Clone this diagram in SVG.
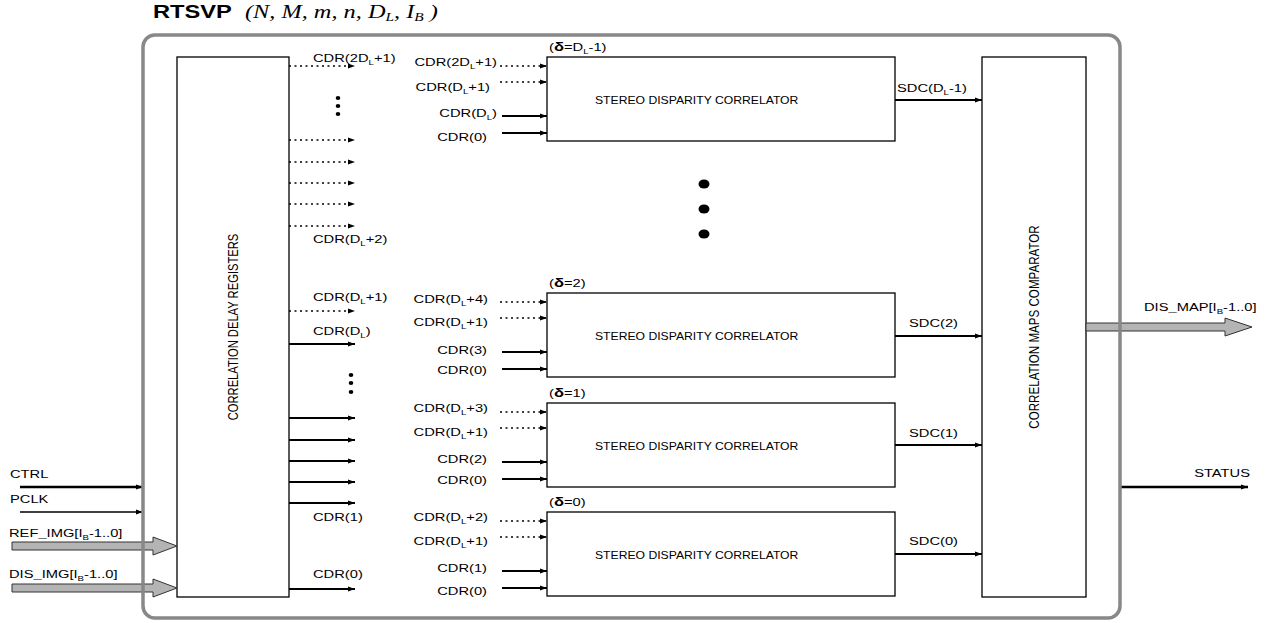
<svg xmlns="http://www.w3.org/2000/svg" width="1275" height="623" viewBox="0 0 1275 623">
<style>
.t{font-family:"Liberation Sans",Arial,Helvetica,sans-serif;font-size:11.5px;fill:#000;}
.l{transform-box:fill-box;transform-origin:left center;transform:scaleX(1.28);}
.r{text-anchor:end;transform-box:fill-box;transform-origin:right center;transform:scaleX(1.28);}
.v{text-anchor:middle;font-size:11.2px;}
.sd{font-size:10.6px;transform-box:fill-box;transform-origin:left center;transform:scaleX(1.15);}
.box{fill:#fff;stroke:#000;stroke-width:1.3;}
.sol{stroke:#000;stroke-width:2;fill:none;}
.thin{stroke-width:1.3;}
.thick{stroke-width:2.6;}
.dot{stroke:#000;stroke-width:1.5;stroke-dasharray:2 3.5;fill:none;}
.fat{fill:#b4b4b4;stroke:#333;stroke-width:1;}
.frame{fill:none;stroke:#888;stroke-width:3.5;}
</style>
<defs>
<marker id="ah" markerUnits="userSpaceOnUse" markerWidth="7" markerHeight="6" refX="7" refY="3" orient="auto">
<path d="M0,0.5 L7,3 L0,5.5 z" fill="#000"/>
</marker>
</defs>

<g id="title">
<text class="t l" x="153" y="18" style="font-size:18.5px;font-weight:bold">RTSVP</text>
<text class="t l" x="245" y="18" style="font-family:'Liberation Serif','Times New Roman',serif;font-style:italic;font-size:19px">(N, M, m, n, D<tspan font-size="12" dy="3">L</tspan><tspan dy="-3">, I</tspan><tspan font-size="12" dy="3">B</tspan><tspan dy="-3"> )</tspan></text>
</g>

<g id="delay-registers">
<rect class="box" x="177" y="57" width="112" height="540"/>
<text class="t v" transform="translate(233,327) scale(1.28,1) rotate(-90)" x="0" y="4">CORRELATION DELAY REGISTERS</text>
</g>

<g id="comparator">
<rect class="box" x="982" y="57" width="104" height="540"/>
<text class="t v" transform="translate(1034,327) scale(1.28,1) rotate(-90)" x="0" y="4" style="font-size:11.6px">CORRELATION MAPS COMPARATOR</text>
</g>

<g id="sdc-dl1">
<rect class="box" x="547" y="57" width="348" height="84"/>
<text class="t sd" x="595" y="104">STEREO DISPARITY CORRELATOR</text>
<text class="t l" x="549" y="51">(<tspan font-weight="bold" font-size="13">δ</tspan>=D<tspan font-size="7.5" dy="3">L</tspan><tspan dy="-3">-1)</tspan></text>
</g>
<g id="sdc-2">
<rect class="box" x="547" y="293" width="348" height="84"/>
<text class="t sd" x="595" y="340">STEREO DISPARITY CORRELATOR</text>
<text class="t l" x="549" y="287">(<tspan font-weight="bold" font-size="13">δ</tspan>=2)</text>
</g>
<g id="sdc-1">
<rect class="box" x="547" y="403" width="348" height="84"/>
<text class="t sd" x="595" y="450">STEREO DISPARITY CORRELATOR</text>
<text class="t l" x="549" y="397">(<tspan font-weight="bold" font-size="13">δ</tspan>=1)</text>
</g>
<g id="sdc-0">
<rect class="box" x="547" y="512" width="348" height="84"/>
<text class="t sd" x="595" y="559">STEREO DISPARITY CORRELATOR</text>
<text class="t l" x="549" y="506">(<tspan font-weight="bold" font-size="13">δ</tspan>=0)</text>
</g>

<g id="dots">
<ellipse cx="338" cy="98" rx="2.3" ry="2"/>
<ellipse cx="338" cy="106" rx="2.3" ry="2"/>
<ellipse cx="338" cy="114" rx="2.3" ry="2"/>
<ellipse cx="351" cy="375" rx="2.3" ry="2"/>
<ellipse cx="351" cy="383" rx="2.3" ry="2"/>
<ellipse cx="351" cy="392" rx="2.3" ry="2"/>
<ellipse cx="704" cy="184" rx="5.5" ry="4.6"/>
<ellipse cx="704" cy="209" rx="5.5" ry="4.6"/>
<ellipse cx="704" cy="234" rx="5.5" ry="4.6"/>
</g>

<g id="connectors">
<line class="dot" x1="289" y1="66" x2="355" y2="66" marker-end="url(#ah)"/>
<line class="dot" x1="289" y1="140" x2="355" y2="140" marker-end="url(#ah)"/>
<line class="dot" x1="289" y1="162" x2="355" y2="162" marker-end="url(#ah)"/>
<line class="dot" x1="289" y1="183" x2="355" y2="183" marker-end="url(#ah)"/>
<line class="dot" x1="289" y1="204" x2="355" y2="204" marker-end="url(#ah)"/>
<line class="dot" x1="289" y1="226" x2="355" y2="226" marker-end="url(#ah)"/>
<line class="dot" x1="289" y1="311" x2="355" y2="311" marker-end="url(#ah)"/>
<line class="sol" x1="289" y1="344" x2="355" y2="344" marker-end="url(#ah)"/>
<line class="sol" x1="289" y1="418" x2="355" y2="418" marker-end="url(#ah)"/>
<line class="sol" x1="289" y1="440" x2="355" y2="440" marker-end="url(#ah)"/>
<line class="sol" x1="289" y1="461" x2="355" y2="461" marker-end="url(#ah)"/>
<line class="sol" x1="289" y1="482" x2="355" y2="482" marker-end="url(#ah)"/>
<line class="sol" x1="289" y1="503" x2="355" y2="503" marker-end="url(#ah)"/>
<line class="sol" x1="289" y1="589" x2="355" y2="589" marker-end="url(#ah)"/>

<line class="dot" x1="500" y1="66" x2="547" y2="66" marker-end="url(#ah)"/>
<line class="dot" x1="500" y1="82" x2="547" y2="82" marker-end="url(#ah)"/>
<line class="sol" x1="502" y1="116" x2="547" y2="116" marker-end="url(#ah)"/>
<line class="sol" x1="502" y1="133" x2="547" y2="133" marker-end="url(#ah)"/>

<line class="dot" x1="500" y1="302" x2="547" y2="302" marker-end="url(#ah)"/>
<line class="dot" x1="500" y1="318" x2="547" y2="318" marker-end="url(#ah)"/>
<line class="sol" x1="502" y1="352" x2="547" y2="352" marker-end="url(#ah)"/>
<line class="sol" x1="502" y1="369" x2="547" y2="369" marker-end="url(#ah)"/>

<line class="dot" x1="500" y1="412" x2="547" y2="412" marker-end="url(#ah)"/>
<line class="dot" x1="500" y1="428" x2="547" y2="428" marker-end="url(#ah)"/>
<line class="sol" x1="502" y1="462" x2="547" y2="462" marker-end="url(#ah)"/>
<line class="sol" x1="502" y1="479" x2="547" y2="479" marker-end="url(#ah)"/>

<line class="dot" x1="500" y1="521" x2="547" y2="521" marker-end="url(#ah)"/>
<line class="dot" x1="500" y1="537" x2="547" y2="537" marker-end="url(#ah)"/>
<line class="sol" x1="502" y1="571" x2="547" y2="571" marker-end="url(#ah)"/>
<line class="sol" x1="502" y1="588" x2="547" y2="588" marker-end="url(#ah)"/>

<line class="sol" x1="895" y1="100" x2="982" y2="100" marker-end="url(#ah)"/>
<line class="sol" x1="895" y1="336" x2="982" y2="336" marker-end="url(#ah)"/>
<line class="sol" x1="895" y1="445" x2="982" y2="445" marker-end="url(#ah)"/>
<line class="sol" x1="895" y1="554" x2="982" y2="554" marker-end="url(#ah)"/>

<line class="sol thick" x1="20" y1="487" x2="143" y2="487" marker-end="url(#ah)"/>
<line class="sol thin" x1="20" y1="512" x2="143" y2="512" marker-end="url(#ah)"/>
<polygon class="fat" points="12,542 153,542 153,537 177,546 153,555 153,550 12,550"/>
<polygon class="fat" points="12,584 153,584 153,579 177,588 153,597 153,592 12,592"/>
<polygon class="fat" points="1086,323 1225,323 1225,318 1252,327 1225,336 1225,331 1086,331"/>
<line class="sol thick" x1="1120" y1="487" x2="1248" y2="487" marker-end="url(#ah)"/>

<text class="t l" x="313" y="62">CDR(2D<tspan font-size="7.5" dy="3">L</tspan><tspan dy="-3">+1)</tspan></text>
<text class="t l" x="313" y="243">CDR(D<tspan font-size="7.5" dy="3">L</tspan><tspan dy="-3">+2)</tspan></text>
<text class="t l" x="313" y="301">CDR(D<tspan font-size="7.5" dy="3">L</tspan><tspan dy="-3">+1)</tspan></text>
<text class="t l" x="313" y="335">CDR(D<tspan font-size="7.5" dy="3">L</tspan><tspan dy="-3">)</tspan></text>
<text class="t l" x="313" y="521">CDR(1)</text>
<text class="t l" x="313" y="578">CDR(0)</text>

<text class="t r" x="497" y="66">CDR(2D<tspan font-size="7.5" dy="3">L</tspan><tspan dy="-3">+1)</tspan></text>
<text class="t r" x="490" y="91">CDR(D<tspan font-size="7.5" dy="3">L</tspan><tspan dy="-3">+1)</tspan></text>
<text class="t r" x="497" y="117">CDR(D<tspan font-size="7.5" dy="3">L</tspan><tspan dy="-3">)</tspan></text>
<text class="t r" x="487" y="141">CDR(0)</text>

<text class="t r" x="488" y="303">CDR(D<tspan font-size="7.5" dy="3">L</tspan><tspan dy="-3">+4)</tspan></text>
<text class="t r" x="488" y="326">CDR(D<tspan font-size="7.5" dy="3">L</tspan><tspan dy="-3">+1)</tspan></text>
<text class="t r" x="487" y="354">CDR(3)</text>
<text class="t r" x="487" y="374">CDR(0)</text>

<text class="t r" x="488" y="412">CDR(D<tspan font-size="7.5" dy="3">L</tspan><tspan dy="-3">+3)</tspan></text>
<text class="t r" x="488" y="436">CDR(D<tspan font-size="7.5" dy="3">L</tspan><tspan dy="-3">+1)</tspan></text>
<text class="t r" x="487" y="463">CDR(2)</text>
<text class="t r" x="487" y="484">CDR(0)</text>

<text class="t r" x="488" y="521">CDR(D<tspan font-size="7.5" dy="3">L</tspan><tspan dy="-3">+2)</tspan></text>
<text class="t r" x="488" y="545">CDR(D<tspan font-size="7.5" dy="3">L</tspan><tspan dy="-3">+1)</tspan></text>
<text class="t r" x="487" y="572">CDR(1)</text>
<text class="t r" x="487" y="595">CDR(0)</text>

<text class="t l" x="897" y="92">SDC(D<tspan font-size="7.5" dy="3">L</tspan><tspan dy="-3">-1)</tspan></text>
<text class="t l" x="909" y="327">SDC(2)</text>
<text class="t l" x="909" y="437">SDC(1)</text>
<text class="t l" x="909" y="545">SDC(0)</text>

<text class="t l" x="10" y="478">CTRL</text>
<text class="t l" x="10" y="503">PCLK</text>
<text class="t l" x="9" y="537">REF_IMG[I<tspan font-size="7.5" dy="3">B</tspan><tspan dy="-3">-1..0]</tspan></text>
<text class="t l" x="9" y="578">DIS_IMG[I<tspan font-size="7.5" dy="3">B</tspan><tspan dy="-3">-1..0]</tspan></text>
<text class="t l" x="1144" y="311">DIS_MAP[I<tspan font-size="7.5" dy="3">B</tspan><tspan dy="-3">-1..0]</tspan></text>
<text class="t r" x="1250" y="477">STATUS</text>
</g>

<g id="rtsvp-frame">
<rect class="frame" x="143" y="35" width="977" height="583" rx="12" ry="12"/>
</g>
</svg>
